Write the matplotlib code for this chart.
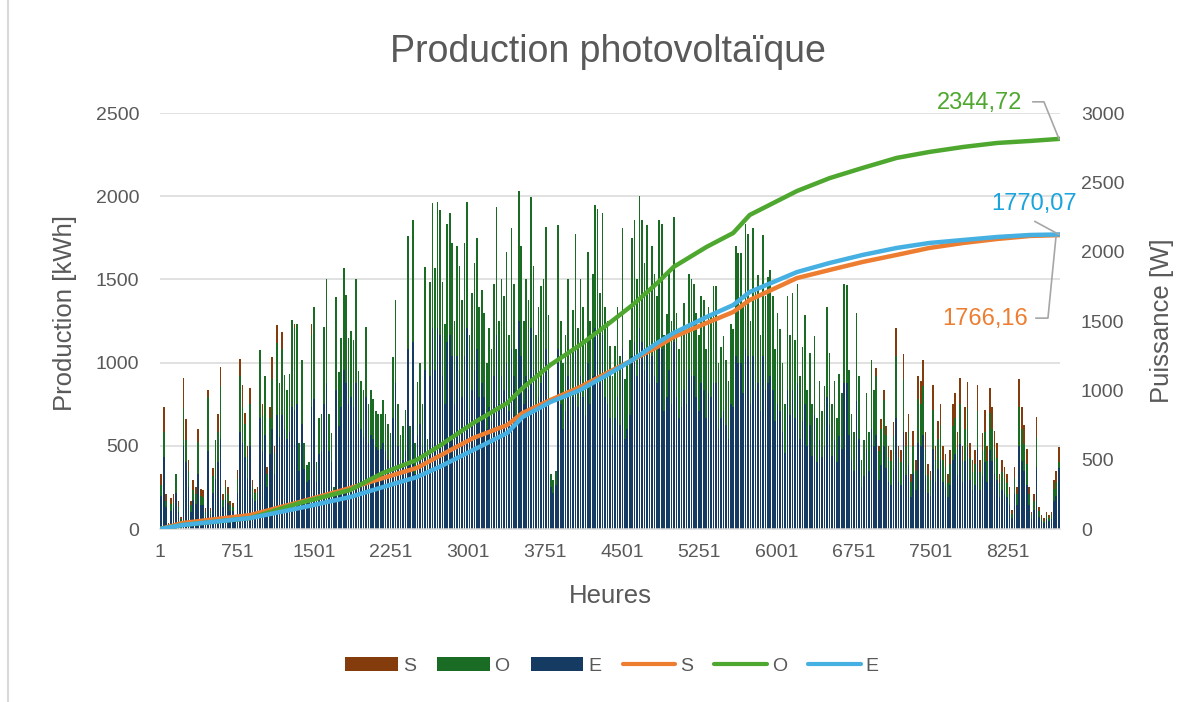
import matplotlib
matplotlib.use("Agg")
import matplotlib.pyplot as plt
import numpy as np
from matplotlib.patches import Patch
from matplotlib.lines import Line2D
from matplotlib.transforms import Affine2D

plt.rcParams['font.family'] = ['Liberation Sans', 'DejaVu Sans']

# ---------------- data ----------------
# cumulative production [kWh] read at these hours
cum_hours = [1, 220, 880, 1360, 1850, 2170, 2500, 2720, 3050, 3380, 3530, 3800, 4090, 4350, 4600,
             4840, 5000, 5320, 5580, 5740, 6200, 6520, 6840, 7170, 7490, 7820, 8150, 8470, 8760]
cum_S = [0, 36, 84, 162, 246, 306, 367, 439, 547, 625, 697, 775, 853, 937, 1016, 1094, 1154, 1238,
         1304, 1376, 1508, 1557, 1605, 1647, 1689, 1719, 1743, 1761, 1766.16]
cum_O = [0, 24, 66, 156, 234, 337, 415, 499, 637, 757, 847, 986, 1106, 1226, 1346, 1478, 1575, 1695,
         1779, 1887, 2031, 2109, 2170, 2230, 2266, 2296, 2320, 2332, 2344.72]
cum_E = [0, 24, 66, 126, 192, 252, 312, 373, 475, 577, 673, 763, 835, 925, 1016, 1118, 1178, 1274,
         1346, 1424, 1544, 1599, 1647, 1689, 1719, 1737, 1755, 1767, 1770.07]

# daily peak power [W] (one value per day of the year)
peak_S = [
    400, 880, 250, 40, 220, 250, 330, 200, 90, 1090,
    790, 500, 200, 350, 300, 720, 290, 280, 150, 1000,
    150, 440, 560, 830, 1170, 250, 350, 300, 200, 190,
    100, 425, 1225, 1040, 834, 600, 1015, 350, 290, 300,
    1150, 900, 980, 450, 880, 1240, 600, 1470, 1000, 1420,
    1050, 950, 1000, 1300, 1480, 1350, 560, 1100, 580, 420,
    440, 1480, 1350, 440, 720, 760, 1300, 1520, 750, 640,
    280, 1400, 1000, 1200, 1450, 1350, 1150, 1200, 1100, 1450,
    950, 900, 850, 1150, 760, 820, 780, 700, 680, 700,
    760, 680, 640, 580, 1000, 1250, 740, 560, 600, 700,
    1500, 600, 1550, 500, 820, 900, 700, 1350, 520, 1250,
    1600, 1300, 1600, 1550, 1250, 1050, 1500, 1500, 1300, 950,
    1250, 1150, 1000, 1250, 1400, 850, 1050, 1150, 1300, 1000,
    1050, 950, 750, 900, 800, 1050, 1400, 900, 1100, 1000,
    1200, 850, 1300, 1050, 800, 1450, 1250, 900, 1100, 1000,
    1450, 1150, 850, 950, 1050, 1100, 1300, 950, 260, 230,
    280, 1300, 900, 750, 850, 1100, 800, 950, 1300, 900,
    1100, 950, 800, 1200, 900, 1100, 1400, 1400, 1050, 1400,
    950, 900, 800, 700, 800, 950, 750, 1300, 650, 750,
    850, 1250, 1350, 1100, 1450, 1350, 1150, 1300, 1050, 1250,
    1150, 1050, 1350, 1350, 850, 950, 1150, 900, 1400, 950,
    850, 900, 1050, 950, 1200, 1150, 1150, 1000, 900, 1100,
    1100, 850, 1050, 1050, 1150, 1150, 800, 900, 950, 850,
    750, 1000, 1000, 1400, 1350, 1400, 1100, 1500, 1450, 1050,
    1550, 1250, 1350, 1000, 1550, 1250, 1350, 1400, 1250, 1000,
    1250, 1150, 1000, 750, 1350, 1150, 1400, 1100, 1450, 900,
    1100, 1300, 850, 1100, 780, 1200, 700, 950, 750, 900,
    1400, 1100, 800, 950, 720, 1000, 880, 1550, 1550, 1050,
    760, 650, 1450, 1050, 470, 600, 950, 680, 1180, 980,
    1160, 600, 790, 1000, 740, 600, 570, 770, 1450, 600,
    570, 1260, 700, 830, 400, 710, 500, 1100, 1070, 1220,
    700, 470, 420, 1040, 600, 780, 900, 600, 540, 400,
    570, 900, 980, 700, 1090, 600, 880, 1060, 620, 500,
    570, 1040, 500, 690, 860, 600, 1020, 880, 710, 620,
    400, 500, 450, 400, 300, 140, 450, 300, 1080, 880,
    750, 580, 300, 120, 250, 810, 160, 100, 80, 120,
    100, 120, 350, 420, 590]

peak_O = [
    320, 700, 200, 30, 180, 190, 400, 160, 70, 870,
    640, 420, 170, 280, 250, 630, 240, 230, 120, 950,
    130, 380, 640, 700, 1030, 210, 300, 250, 170, 160,
    90, 360, 1100, 880, 760, 520, 900, 300, 260, 270,
    1290, 820, 1100, 400, 800, 1080, 550, 1340, 1050, 1300,
    1110, 1000, 1120, 1505, 1450, 1480, 620, 1220, 620, 460,
    480, 1400, 1600, 480, 800, 830, 1460, 1800, 830, 690,
    300, 1670, 1130, 1380, 1880, 1690, 1380, 1430, 1360, 1800,
    1140, 1070, 1000, 1460, 900, 1000, 940, 850, 830, 830,
    930, 830, 760, 690, 1240, 1650, 900, 680, 740, 860,
    2110, 740, 2230, 620, 1060, 1200, 900, 1890, 650, 1780,
    2350, 1880, 2360, 2300, 1780, 1480, 2200, 2280, 2060, 1500,
    2040, 1900, 1650, 2060, 2360, 1400, 1700, 1920, 2100, 1600,
    1720, 1560, 1200, 1450, 1300, 1770, 2320, 1500, 1800, 1680,
    2000, 1400, 2170, 1770, 1300, 2435, 2040, 1500, 1800, 1650,
    2395, 1900, 1400, 1600, 1750, 1800, 2180, 1540, 400, 350,
    420, 2190, 1500, 1200, 1400, 1800, 1300, 1580, 2130, 1450,
    1800, 1600, 1350, 2000, 1500, 1840, 2340, 2310, 1700, 2280,
    1600, 1500, 1320, 1100, 1320, 1600, 1250, 2170, 1080, 1200,
    1360, 2100, 2230, 1800, 2400, 2230, 1920, 2190, 1700, 2040,
    1840, 1680, 2230, 2200, 1400, 1550, 1860, 1500, 2250, 1560,
    1300, 1420, 1630, 1450, 1840, 1800, 1770, 1560, 1400, 1680,
    1650, 1300, 1600, 1560, 1750, 1750, 1200, 1310, 1390, 1220,
    1070, 1480, 1440, 2040, 1990, 1990, 1600, 2200, 2130, 1500,
    2170, 1730, 1830, 1400, 2120, 1680, 1820, 1870, 1680, 1300,
    1560, 1440, 1200, 900, 1680, 1400, 1700, 1360, 1770, 1100,
    1315, 1540, 1000, 1270, 900, 1390, 800, 1070, 850, 1030,
    1600, 1270, 900, 1070, 800, 1120, 980, 1770, 1760, 1150,
    830, 700, 1560, 1100, 500, 640, 980, 700, 1220, 1000,
    1100, 560, 720, 930, 680, 520, 490, 670, 1250, 520,
    480, 1080, 600, 700, 340, 600, 420, 940, 900, 1030,
    580, 390, 350, 860, 500, 650, 750, 500, 450, 330,
    470, 740, 800, 580, 900, 490, 720, 870, 510, 410,
    470, 850, 410, 570, 700, 490, 840, 720, 580, 510,
    330, 410, 370, 330, 250, 110, 370, 250, 880, 720,
    610, 470, 250, 100, 200, 660, 130, 80, 60, 100,
    80, 100, 290, 340, 480]

peak_E = [
    240, 520, 160, 30, 130, 150, 260, 120, 50, 600,
    480, 300, 120, 210, 180, 400, 170, 170, 90, 560,
    100, 260, 360, 480, 650, 160, 210, 190, 130, 130,
    70, 260, 700, 620, 520, 370, 600, 220, 200, 210,
    800, 560, 680, 300, 540, 720, 400, 820, 660, 820,
    720, 650, 700, 880, 860, 900, 420, 760, 430, 340,
    350, 880, 940, 340, 540, 560, 900, 1050, 560, 480,
    230, 1000, 740, 880, 1150, 1050, 900, 950, 880, 1050,
    760, 720, 660, 950, 620, 680, 650, 590, 570, 580,
    620, 560, 500, 460, 800, 1050, 600, 460, 500, 560,
    1300, 480, 1350, 400, 680, 760, 590, 1150, 420, 1100,
    1450, 1150, 1450, 1400, 1100, 900, 1350, 1400, 1250, 900,
    1250, 1150, 950, 1250, 1450, 850, 1000, 1150, 1300, 950,
    1050, 950, 720, 880, 780, 1100, 1400, 900, 1100, 1000,
    1200, 850, 1300, 1100, 780, 1500, 1250, 900, 1100, 1000,
    1450, 1150, 850, 950, 1050, 1100, 1300, 920, 300, 260,
    320, 1300, 900, 720, 850, 1100, 780, 950, 1300, 880,
    1100, 950, 820, 1200, 900, 1100, 1450, 1400, 1050, 1400,
    950, 900, 800, 680, 800, 950, 750, 1300, 650, 720,
    820, 1250, 1350, 1100, 1450, 1350, 1150, 1300, 1050, 1250,
    1100, 1050, 1350, 1300, 850, 950, 1150, 900, 1350, 950,
    800, 880, 1000, 900, 1150, 1100, 1100, 950, 850, 1050,
    1000, 800, 980, 950, 1050, 1050, 720, 800, 850, 750,
    650, 900, 880, 1250, 1200, 1200, 980, 1300, 1250, 900,
    1250, 1000, 1050, 850, 1250, 1000, 1050, 1100, 1000, 780,
    900, 850, 700, 550, 1000, 820, 1000, 800, 1050, 650,
    780, 900, 600, 750, 530, 820, 480, 640, 520, 600,
    950, 750, 530, 640, 480, 670, 580, 1050, 1050, 680,
    500, 420, 920, 650, 300, 380, 580, 420, 720, 600,
    680, 350, 460, 600, 440, 340, 320, 430, 800, 340,
    320, 700, 390, 460, 230, 400, 280, 620, 600, 680,
    390, 260, 240, 580, 340, 430, 500, 340, 300, 230,
    320, 500, 540, 390, 610, 340, 490, 590, 350, 280,
    320, 580, 280, 380, 480, 340, 570, 490, 400, 350,
    230, 280, 250, 230, 170, 80, 250, 170, 600, 490,
    420, 320, 170, 70, 140, 450, 90, 60, 45, 70,
    60, 70, 200, 240, 440]

series_names = ['S', 'O', 'E']
x_tick_labels = [1, 751, 1501, 2251, 3001, 3751, 4501, 5251, 6001, 6751, 7501, 8251]

# ---------------- style ----------------
bar_colors = ['#843C0C', '#1A6B24', '#163B63']
line_colors = ['#ED7D31', '#4EA72E', '#45B0E1']
label_colors = ['#ED7D31', '#4EA72E', '#1AA3DD']
txt = '#595959'
grid_c = '#D9D9D9'

fig = plt.figure(figsize=(12, 7.02), dpi=100)
ax = fig.add_axes([160 / 1200, 1 - 529 / 702, 900 / 1200, 416 / 702])
ax2 = ax.twinx()
ax.set_zorder(ax2.get_zorder() + 1)
ax.patch.set_visible(False)

# bars (power, right axis)
for vals, c in zip([peak_S, peak_O, peak_E], bar_colors):
    pos = np.arange(len(vals)) * 24 + 12.5
    ax2.bar(pos, vals, width=16, color=c, linewidth=0, zorder=2)

# cumulative lines (production, left axis)
for vals, c in zip([cum_S, cum_O, cum_E], line_colors):
    ax.plot(cum_hours, vals, color=c, lw=3.2, solid_capstyle='round', zorder=3)

ax.set_xlim(0.5, 8760.5)
ax.set_ylim(0, 2500)
ax2.set_ylim(0, 3000)
ax.set_yticks(range(0, 2501, 500))
ax2.set_yticks(range(0, 3001, 500))
ax.set_xticks(x_tick_labels)
ax.set_xticklabels([str(v) for v in x_tick_labels])

for v in range(500, 2501, 500):
    ax2.axhline(v * 3000 / 2500, color=grid_c, lw=1.1, zorder=0)

for a in (ax, ax2):
    for s in a.spines.values():
        s.set_visible(False)
    a.tick_params(length=0, labelsize=14, colors=txt)
ax2.spines['bottom'].set_visible(True)
ax2.spines['bottom'].set_color(grid_c)
ax2.spines['bottom'].set_linewidth(1.1)
ax.tick_params(axis='x', pad=11)
ax.tick_params(axis='y', pad=15)
ax2.tick_params(axis='y', pad=15)

ax.set_ylabel('Production [kWh]', fontsize=18.5, color=txt)
ax.yaxis.set_label_coords(-0.092, 0.52)
ax2.set_ylabel('Puissance [W]', fontsize=18.5, color=txt)
ax2.yaxis.set_label_coords(1.100, 0.5)
ax.set_xlabel('Heures', fontsize=18.5, color=txt)
ax.xaxis.set_label_coords(0.5, -0.133)

fig.text(608 / 1200, 1 - 52 / 702, 'Production photovoltaïque', fontsize=27, color=txt,
         ha='center', va='center')

# data labels with leader lines (offsets in pixels)
finals = [cum_S[-1], cum_O[-1], cum_E[-1]]
label_off = [(-75, -84), (-80, 36), (-26, 30)]
leaders = [[(-24, -83), (-12, -83), (-4, -2)],
           [(-27, 37), (-16, 37), (-1, 0)],
           [(-25, 13), (-1, 0)]]
for val, c, off, lead in zip(finals, label_colors, label_off, leaders):
    ax.annotate(f"{val:.2f}".replace('.', ','), xy=(cum_hours[-1], val), xytext=off,
                textcoords='offset pixels', ha='center', va='center', fontsize=17, color=c,
                annotation_clip=False)
    px, py = ax.transData.transform((cum_hours[-1], val))
    xs = [p[0] for p in lead]
    ys = [p[1] for p in lead]
    ln = Line2D(xs, ys, color='#A6A6A6', lw=1.2, transform=Affine2D().translate(px, py))
    fig.add_artist(ln)

# legend
handles = [Patch(facecolor=c, edgecolor='none') for c in bar_colors] + \
          [Line2D([0], [0], color=c, lw=3, solid_capstyle='round') for c in line_colors]
labels = series_names + series_names
fig.legend(handles, labels, loc='center', bbox_to_anchor=(612 / 1200, 1 - 666 / 702), ncol=6,
           frameon=False, fontsize=14, handlelength=2.7, handleheight=0.75, handletextpad=0.25,
           columnspacing=1.1, labelcolor=txt)

# chart border (left edge)
fig.add_artist(Line2D([8 / 1200, 8 / 1200], [0, 1], color=grid_c, lw=1.5,
                      transform=fig.transFigure))

fig.savefig('out.png', dpi=100)
